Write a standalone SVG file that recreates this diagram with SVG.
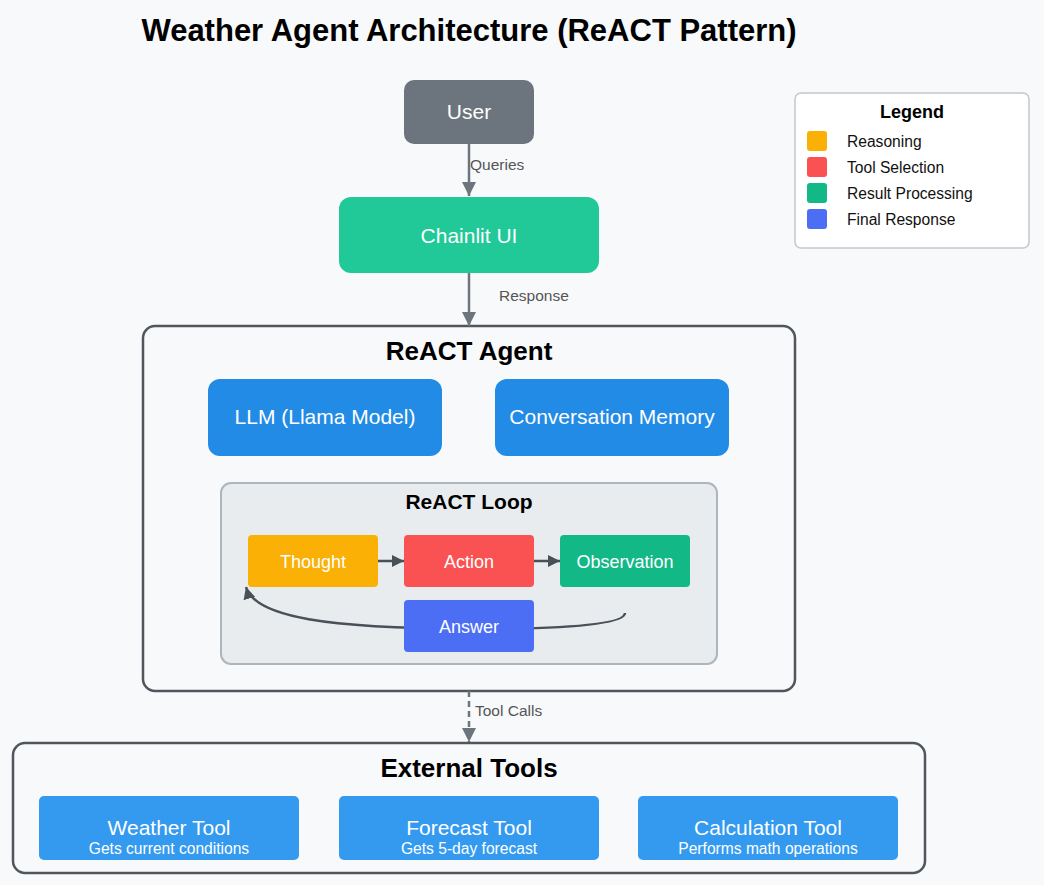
<svg xmlns="http://www.w3.org/2000/svg" width="1044" height="885" viewBox="0 0 1044 885">
<defs>
<marker id="ag" viewBox="0 0 10 10" refX="10" refY="5" markerWidth="14" markerHeight="14" markerUnits="userSpaceOnUse" orient="auto"><path d="M0,0 L10,5 L0,10 z" fill="#6c757d"/></marker>
<marker id="ad" viewBox="0 0 10 10" refX="10" refY="5" markerWidth="12" markerHeight="12" markerUnits="userSpaceOnUse" orient="auto"><path d="M0,0 L10,5 L0,10 z" fill="#495057"/></marker>
</defs>
<style>
text{font-family:"Liberation Sans",Arial,sans-serif}
.w{fill:#fff;text-anchor:middle}
.lbl{fill:#555;font-size:15.5px}
.h{font-weight:bold;text-anchor:middle;fill:#000}
.cont{fill:#f8f9fb;stroke:#50565c;stroke-width:2.5}
.step{font-size:18px}
.tool{fill:#339af0}
.leg{font-size:15.6px;fill:#111}
</style>
<rect width="1044" height="885" fill="#f8f9fb"/>
<text x="469" y="41" class="h" font-size="31">Weather Agent Architecture (ReACT Pattern)</text>

<g id="legend">
<rect x="795" y="93" width="234" height="155" rx="6" fill="#fff" stroke="#c3c7cc" stroke-width="1.5"/>
<text x="912" y="118" class="h" font-size="18">Legend</text>
<rect x="807" y="131" width="20" height="20" rx="3" fill="#fab005"/>
<text x="847" y="147" class="leg">Reasoning</text>
<rect x="807" y="157" width="20" height="20" rx="3" fill="#fa5252"/>
<text x="847" y="173" class="leg">Tool Selection</text>
<rect x="807" y="183" width="20" height="20" rx="3" fill="#12b886"/>
<text x="847" y="199" class="leg">Result Processing</text>
<rect x="807" y="209" width="20" height="20" rx="3" fill="#4c6ef5"/>
<text x="847" y="225" class="leg">Final Response</text>
</g>

<g id="agent">
<rect x="143" y="326" width="652" height="365" rx="12" class="cont"/>
<text x="469" y="360" class="h" font-size="26">ReACT Agent</text>
</g>
<g id="llm">
<rect x="208" y="379" width="234" height="77" rx="12" fill="#228be6"/>
<text x="325" y="424" class="w" font-size="21">LLM (Llama Model)</text>
</g>
<g id="memory">
<rect x="495" y="379" width="234" height="77" rx="12" fill="#228be6"/>
<text x="612" y="424" class="w" font-size="21">Conversation Memory</text>
</g>
<g id="loop">
<rect x="221" y="483" width="496" height="181" rx="10" fill="#e9ecef" stroke="#adb5bd" stroke-width="2"/>
<text x="469" y="509" class="h" font-size="21">ReACT Loop</text>
</g>

<g id="connectors">
<line x1="469" y1="144" x2="469" y2="196" stroke="#6c757d" stroke-width="2.5" marker-end="url(#ag)"/>
<text x="470" y="170" class="lbl">Queries</text>
<line x1="469" y1="273" x2="469" y2="326" stroke="#6c757d" stroke-width="2.5" marker-end="url(#ag)"/>
<text x="499" y="301" class="lbl">Response</text>
<line x1="469" y1="691" x2="469" y2="742" stroke="#6c757d" stroke-width="2.5" stroke-dasharray="6,4" marker-end="url(#ag)"/>
<text x="475" y="716" class="lbl">Tool Calls</text>
<line x1="378" y1="561" x2="404" y2="561" stroke="#495057" stroke-width="2.5" marker-end="url(#ad)"/>
<line x1="534" y1="561" x2="560" y2="561" stroke="#495057" stroke-width="2.5" marker-end="url(#ad)"/>
<path d="M625,613 C625,628 520,629 469,629 C330,628 255,618 246,587" fill="none" stroke="#495057" stroke-width="2.5" marker-end="url(#ad)"/>
</g>

<g id="user">
<rect x="404" y="80" width="130" height="64" rx="10" fill="#6c757d"/>
<text x="469" y="119" class="w" font-size="21">User</text>
</g>
<g id="chainlit">
<rect x="339" y="197" width="260" height="76" rx="12" fill="#20c997"/>
<text x="469" y="243" class="w" font-size="21">Chainlit UI</text>
</g>
<g id="thought">
<rect x="248" y="535" width="130" height="52" rx="4" fill="#fab005"/>
<text x="313" y="568" class="w step">Thought</text>
</g>
<g id="action">
<rect x="404" y="535" width="130" height="52" rx="4" fill="#fa5252"/>
<text x="469" y="568" class="w step">Action</text>
</g>
<g id="observation">
<rect x="560" y="535" width="130" height="52" rx="4" fill="#12b886"/>
<text x="625" y="568" class="w step">Observation</text>
</g>
<g id="answer">
<rect x="404" y="600" width="130" height="52" rx="4" fill="#4c6ef5"/>
<text x="469" y="633" class="w step">Answer</text>
</g>

<g id="external">
<rect x="13" y="743" width="912" height="130" rx="12" class="cont"/>
<text x="469" y="777" class="h" font-size="26">External Tools</text>
</g>
<g id="weather">
<rect x="39" y="796" width="260" height="64" rx="5" class="tool"/>
<text x="169" y="835" class="w" font-size="21">Weather Tool</text>
<text x="169" y="854" class="w" font-size="15.6">Gets current conditions</text>
</g>
<g id="forecast">
<rect x="339" y="796" width="260" height="64" rx="5" class="tool"/>
<text x="469" y="835" class="w" font-size="21">Forecast Tool</text>
<text x="469" y="854" class="w" font-size="15.6">Gets 5-day forecast</text>
</g>
<g id="calculation">
<rect x="638" y="796" width="260" height="64" rx="5" class="tool"/>
<text x="768" y="835" class="w" font-size="21">Calculation Tool</text>
<text x="768" y="854" class="w" font-size="15.6">Performs math operations</text>
</g>
</svg>
